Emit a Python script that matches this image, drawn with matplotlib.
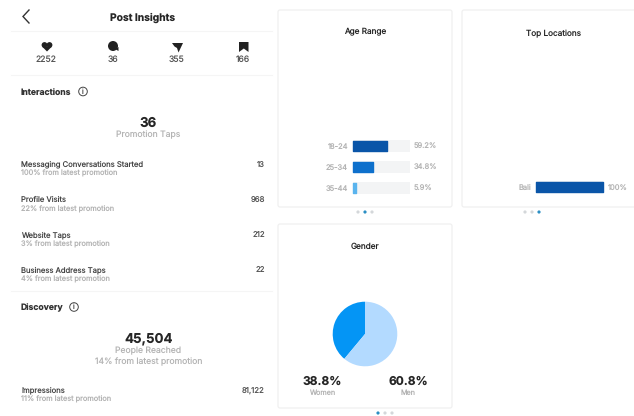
import matplotlib
matplotlib.use('Agg')
import matplotlib.pyplot as plt
from matplotlib.patches import FancyBboxPatch, Circle, Polygon

plt.rcParams['font.family'] = ['Inter', 'DejaVu Sans']
plt.rcParams['text.hinting'] = 'no_hinting'
plt.rcParams['text.hinting_factor'] = 1

# numbers
icon_counts = ['2252', '36', '355', '166']
row_names = ['Messaging Conversations Started', 'Profile Visits', 'Website Taps', 'Business Address Taps']
row_notes = ['100% from latest promotion', '22% from latest promotion', '3% from latest promotion', '4% from latest promotion']
row_values = ['13', '968', '212', '22']

age_labels = ['18-24', '25-34', '35-44']
age_values = [59.2, 34.8, 5.9]
age_colors = ['#0a55a8', '#0e70cc', '#5ab4ee']

location_labels = ['Bali']
location_values = [100]

gender_labels = ['Women', 'Men']
gender_values = [38.8, 60.8]
gender_colors = ['#0495f5', '#b3daff']

W, H = 634, 416
DARK = '#262626'
GREY = '#b4b4b4'
LINE = '#f5f5f5'

fig = plt.figure(figsize=(W / 100, H / 100), dpi=100)
bg = fig.add_axes([0, 0, 1, 1])
bg.set_xlim(0, W)
bg.set_ylim(H, 0)
bg.axis('off')


def label(x, y, s, size, color, **kw):
    # unhinted Inter sits a little high when centred, nudge it down
    kw.setdefault('va', 'center')
    bg.text(x, y + 0.8, s, fontsize=size, color=color, **kw)


def px_axes(x0, y0, x1, y1):
    # axes placed by pixel box, y measured from the top
    ax = fig.add_axes([x0 / W, 1 - y1 / H, (x1 - x0) / W, (y1 - y0) / H])
    ax.axis('off')
    return ax


def card(x0, y0, x1, y1):
    bg.add_patch(FancyBboxPatch((x0 + 2, y0 + 2), x1 - x0 - 4, y1 - y0 - 4,
                                boxstyle='round,pad=2,rounding_size=2',
                                fc='white', ec='#f0f0f0', lw=0.9))


def dots(cx, y, active):
    for i in range(3):
        col = '#2b8fc4' if i == active else '#d4d7da'
        bg.add_patch(Circle((cx + (i - 1) * 7, y), 1.6, fc=col, ec='none'))


def info_icon(x, y):
    bg.add_patch(Circle((x, y), 4.3, fc='white', ec='#444444', lw=0.7))
    label(x, y - 0.6, 'i', 5, '#444444', ha='center')


def hbars(x0, x1, centers, values, colors, height):
    # rows on a 0-100 scale with a pale track behind each bar
    ax = px_axes(x0, min(centers) - 10, x1, max(centers) + 10)
    ax.set_xlim(0, 100)
    ax.set_ylim(max(centers) + 10, min(centers) - 10)
    ax.barh(centers, [100] * len(centers), height=height, color='#f3f4f5')
    # round the bar corners with a same-coloured outline
    for bar, col in zip(ax.barh(centers, values, height=height - 1.4, color=colors), colors):
        bar.set_edgecolor(col)
        bar.set_linewidth(1.0)
        bar.set_joinstyle('round')
        bar.set_clip_on(False)


# left panel header
bg.plot([29, 23, 29], [10, 16.5, 23], color='#333333', lw=1.0, solid_joinstyle='miter')
label(143, 17.5, 'Post Insights', 7.4, DARK, fontweight='bold', ha='center')
bg.plot([11, 272], [31, 31], color=LINE, lw=0.8)

# icon row
icon_x = [46, 113, 177, 243]
bg.add_patch(Circle((44.5, 45.0), 2.9, fc='#222222', ec='none'))
bg.add_patch(Circle((49.5, 45.0), 2.9, fc='#222222', ec='none'))
bg.add_patch(Polygon([(42.1, 46.6), (51.9, 46.6), (47, 51.5)], fc='#222222', ec='none'))
bg.add_patch(Circle((113, 46), 5, fc='#222222', ec='none'))
bg.add_patch(Polygon([(115, 49), (118.5, 47), (118.5, 51)], fc='#222222', ec='none'))
bg.add_patch(Polygon([(172, 43), (183, 43), (178.5, 52.5), (177, 48), (174.5, 46.5)], fc='#222222', ec='none'))
bg.add_patch(Polygon([(239, 42), (248.5, 42), (248.5, 52), (243.8, 48.5), (239, 52)], fc='#222222', ec='none'))
for x, count in zip(icon_x, icon_counts):
    label(x + (-0.5 if count == '2252' else 0), 59, count, 6.2, '#555555', ha='center')
bg.plot([11, 272], [75, 75], color=LINE, lw=0.8)

# interactions
label(21, 91.5, 'Interactions', 6.2, '#333333', fontweight='bold')
info_icon(83, 91.5)
label(148.5, 122, '36', 9.6, DARK, fontweight='bold', ha='center')
label(148.5, 134, 'Promotion Taps', 6.2, GREY, ha='center')

row_y = [163.5, 199, 234.5, 269.5]
for y, name, note, value in zip(row_y, row_names, row_notes, row_values):
    label(21, y, name, 5.5, '#444444')
    label(21, y + 9, note, 5.3, GREY)
    label(265, y, value, 5.6, '#555555', ha='right')
bg.plot([11, 272], [291, 291], color=LINE, lw=0.8)

# discovery
label(21, 307, 'Discovery', 6.2, '#333333', fontweight='bold')
info_icon(74, 307)
label(148.5, 337.5, '45,504', 9.6, DARK, fontweight='bold', ha='center')
label(148.5, 350, 'People Reached', 6.2, GREY, ha='center')
label(148.5, 360.5, '14% from latest promotion', 6.2, GREY, ha='center')
label(21, 389.5, 'Impressions', 5.5, '#444444')
label(21, 398.5, '11% from latest promotion', 5.3, GREY)
label(265, 389.5, '81,122', 5.6, '#555555', ha='right')

# age range card
card(278, 10, 452, 207)
label(365, 31.5, 'Age Range', 5.9, DARK, ha='center')
age_y = [146, 167, 188]
hbars(353, 410, age_y, age_values, age_colors, 11.5)
for y, age, value in zip(age_y, age_labels, age_values):
    label(348, y, age, 5.4, GREY, ha='right')
    label(414, y, f'{value}%', 5.4, GREY)
dots(365, 212, 1)

# top locations card
card(462, 10, 640, 207)
label(554, 33, 'Top Locations', 5.9, DARK, ha='center')
hbars(536, 603, [187], location_values, ['#0a55a8'], 11.5)
label(531, 187.5, location_labels[0], 5.4, GREY, ha='right')
label(608, 187.5, f'{location_values[0]}%', 5.4, GREY)
dots(532, 212, 2)

# gender card
card(278, 224, 452, 408)
label(365, 245.5, 'Gender', 5.9, DARK, ha='center')
pie_ax = px_axes(331, 300, 399, 368)
pie_ax.pie(gender_values, colors=gender_colors, startangle=90, counterclock=True, radius=0.95)
pie_ax.set_xlim(-1, 1)
pie_ax.set_ylim(-1, 1)
for x, gender, value in zip([322, 408.5], gender_labels, gender_values):
    label(x, 381, f'{value}%', 8.6, DARK, fontweight='bold', ha='center')
    label(x, 392, gender, 5.2, GREY, ha='center')
dots(385, 413, 0)

fig.savefig('out.png', dpi=100)
